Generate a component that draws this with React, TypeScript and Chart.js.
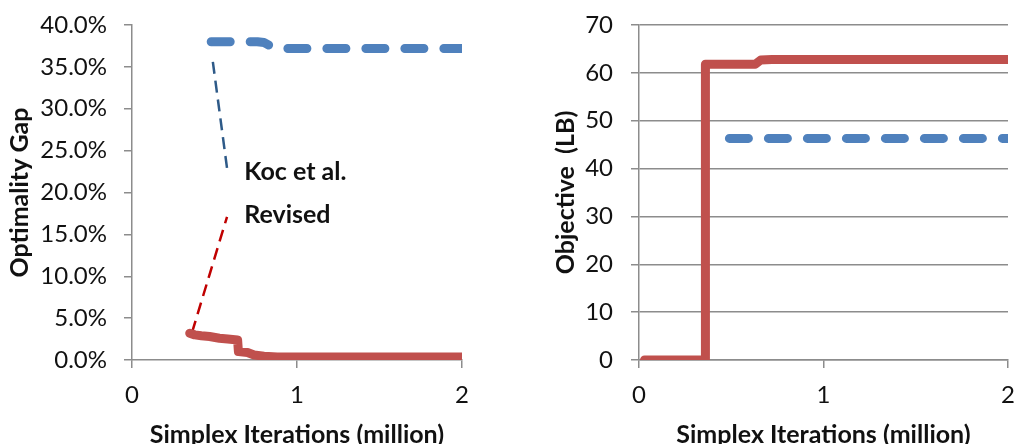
import React, { useEffect, useRef } from "react";
import { Chart, registerables } from "chart.js";
Chart.register(...registerables);

// ---------- data ----------
const xTitle = "Simplex Iterations (million)";
const gapTitle = "Optimality Gap";
const objTitle = "Objective  (LB)";

// Left chart: optimality gap (%)
const gapKocX = [0.48, 0.76, 0.8, 0.84, 0.88, 2.0];
const gapKocY = [38.0, 38.0, 37.9, 37.5, 37.2, 37.2];
const gapRevX = [0.35, 0.38, 0.42, 0.47, 0.53, 0.58, 0.64, 0.645, 0.7, 0.74, 0.8, 0.88, 1.0, 2.0];
const gapRevY = [3.2, 3.0, 2.9, 2.8, 2.6, 2.5, 2.4, 1.0, 0.9, 0.6, 0.45, 0.35, 0.35, 0.35];

// Right chart: objective (LB)
const objKocX = [0.49, 2.0];
const objKocY = [46.3, 46.3];
const objRevX = [0.03, 0.36, 0.36, 0.63, 0.66, 0.72, 2.0];
const objRevY = [0, 0, 61.8, 61.8, 62.7, 62.8, 62.8];

// Annotation leader lines & labels (left chart, data coords)
const kocLeaderX = [0.49, 0.576];
const kocLeaderY = [35.6, 22.9];
const revLeaderX = [0.364, 0.576];
const revLeaderY = [3.3, 17.1];
const noteText = ["Koc et al.", "Revised"];
const noteX = [0.68, 0.68];
const noteY = [22.4, 17.3];

// ---------- styles ----------
const RED = "#C0504D";
const BLUE = "#4F81BD";
const LEADER_BLUE = "#2E5A88";
const LEADER_RED = "#C00000";
const AXIS = "#8C8C8C";
const TEXT = "#111111";
const FONT = "Lato";

const pts = (xs: number[], ys: number[]) => xs.map((x, i) => ({ x, y: ys[i] }));

const notePlugin = {
  id: "notes",
  afterDatasetsDraw(chart: any, _a: any, opts: any) {
    if (!opts || !opts.enabled) return;
    const { ctx, scales } = chart;
    ctx.save();
    ctx.font = `bold 25px ${FONT}`;
    ctx.fillStyle = TEXT;
    ctx.textAlign = "left";
    ctx.textBaseline = "middle";
    noteText.forEach((t, i) => {
      ctx.fillText(t, scales.x.getPixelForValue(noteX[i]), scales.y.getPixelForValue(noteY[i]));
    });
    ctx.restore();
  },
};

function makeOptions(opts: {
  yMin: number;
  yMax: number;
  yStep: number;
  yFmt: (v: number) => string;
  yTitle: string;
  yGrid: boolean;
  axisWidth: number;
  tickPad: number;
  padLeft: number;
  padRight: number;
  notes: boolean;
}) {
  const tickFont = { family: FONT, size: 24 };
  const titleFont = { family: FONT, size: 25, weight: "bold" as const };
  return {
    responsive: false,
    devicePixelRatio: 1,
    animation: false,
    layout: { padding: { left: opts.padLeft, right: opts.padRight, top: 25, bottom: 0 } },
    plugins: {
      legend: { display: false },
      tooltip: { enabled: false },
      notes: { enabled: opts.notes },
    },
    elements: { point: { radius: 0 }, line: { tension: 0 } },
    scales: {
      x: {
        type: "linear",
        min: 0,
        max: 2,
        afterFit: (s: any) => {
          s.height = 84;
          s.paddingLeft = 0;
          s.paddingRight = 0;
        },
        ticks: { stepSize: 1, font: tickFont, color: TEXT, padding: 13, maxRotation: 0 },
        grid: { drawOnChartArea: false, drawTicks: true, tickLength: 8, color: AXIS, lineWidth: 1.5 },
        border: { display: true, color: AXIS, width: 1.5 },
        title: { display: true, text: xTitle, font: titleFont, color: TEXT, padding: { top: 0, bottom: -6 } },
      },
      y: {
        type: "linear",
        min: opts.yMin,
        max: opts.yMax,
        afterFit: (s: any) => {
          s.width = opts.axisWidth;
          s.paddingTop = 0;
          s.paddingBottom = 0;
        },
        ticks: { stepSize: opts.yStep, font: tickFont, color: TEXT, padding: opts.tickPad, callback: (v: any) => opts.yFmt(v) },
        grid: { drawOnChartArea: opts.yGrid, drawTicks: true, tickLength: 8, color: AXIS, lineWidth: 1.5 },
        border: { display: true, color: AXIS, width: 1.5 },
        title: { display: true, text: opts.yTitle, font: titleFont, color: TEXT, padding: { top: 5, bottom: 0 } },
      },
    },
  } as any;
}

const mainLine = (data: any[], color: string, dashed: boolean) => ({
  data,
  borderColor: color,
  backgroundColor: color,
  borderWidth: 9,
  borderDash: dashed ? [19, 20] : [],
  borderCapStyle: "round",
  borderJoinStyle: "round",
  fill: false,
  pointRadius: 0,
});

const leader = (data: any[], color: string) => ({
  data,
  borderColor: color,
  borderWidth: 2.5,
  borderDash: [12, 7],
  borderCapStyle: "butt",
  fill: false,
  pointRadius: 0,
});

export default function App() {
  const leftRef = useRef<HTMLCanvasElement>(null);
  const rightRef = useRef<HTMLCanvasElement>(null);

  useEffect(() => {
    const left = new Chart(leftRef.current!, {
      type: "line",
      data: {
        datasets: [
          mainLine(pts(gapKocX, gapKocY), BLUE, true),
          mainLine(pts(gapRevX, gapRevY), RED, false),
          leader(pts(kocLeaderX, kocLeaderY), LEADER_BLUE),
          leader(pts(revLeaderX, revLeaderY), LEADER_RED),
        ] as any,
      },
      options: makeOptions({
        yMin: 0,
        yMax: 40,
        yStep: 5,
        yFmt: (v) => Number(v).toFixed(1) + "%",
        yTitle: gapTitle,
        yGrid: false,
        axisWidth: 132,
        tickPad: 17,
        padLeft: 0,
        padRight: 46,
        notes: true,
      }),
      plugins: [notePlugin],
    });
    const right = new Chart(rightRef.current!, {
      type: "line",
      data: {
        datasets: [
          mainLine(pts(objKocX, objKocY), BLUE, true),
          mainLine(pts(objRevX, objRevY), RED, false),
        ] as any,
      },
      options: makeOptions({
        yMin: 0,
        yMax: 70,
        yStep: 10,
        yFmt: (v) => String(v),
        yTitle: objTitle,
        yGrid: true,
        axisWidth: 93,
        tickPad: 18,
        padLeft: 38,
        padRight: 8,
        notes: false,
      }),
      plugins: [notePlugin],
    });
    return () => {
      left.destroy();
      right.destroy();
    };
  }, []);

  return (
    <div style={{ position: "fixed", left: 0, top: 0, width: 1016, height: 444, background: "#fff" }}>
      <canvas ref={leftRef} width={508} height={444} style={{ position: "absolute", left: 0, top: 0 }} />
      <canvas ref={rightRef} width={508} height={444} style={{ position: "absolute", left: 508, top: 0 }} />
    </div>
  );
}
